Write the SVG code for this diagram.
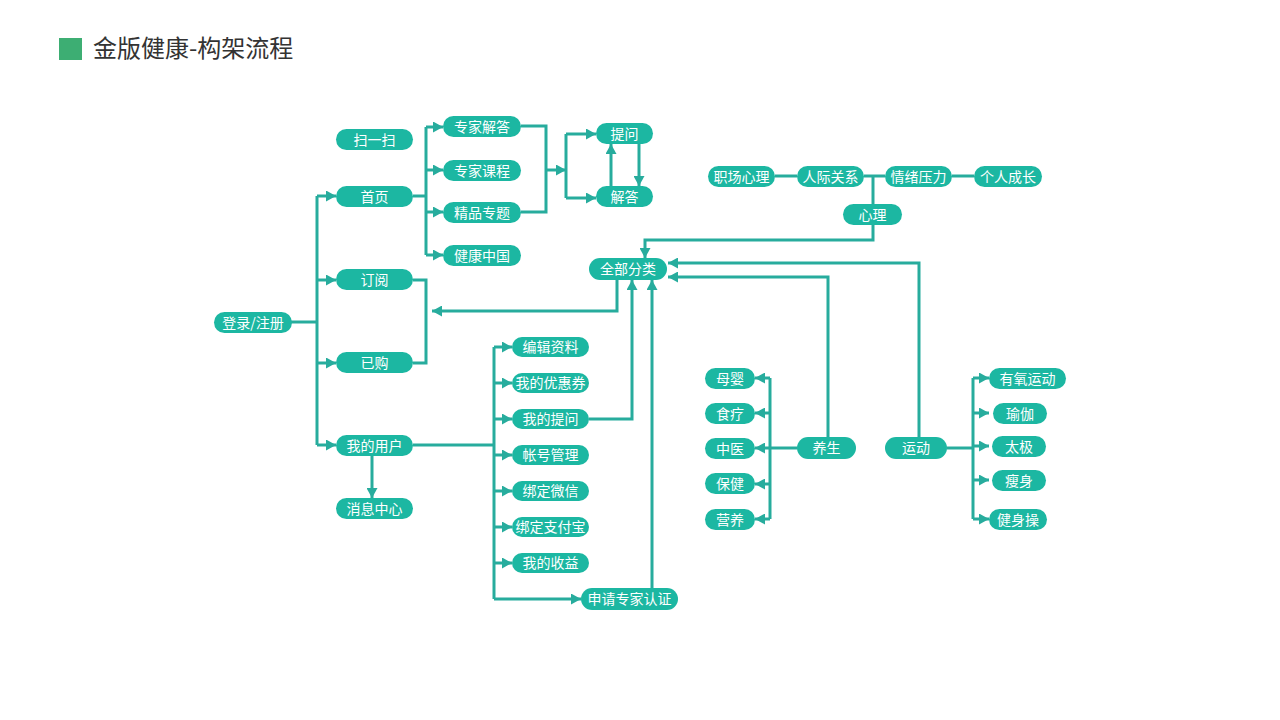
<svg xmlns="http://www.w3.org/2000/svg" width="1280" height="720" viewBox="0 0 1280 720">
<defs>
<style>
.n rect{fill:#1cb7a2}
.n text{fill:#fff;font-family:"Noto Sans CJK SC","Noto Sans",sans-serif;font-size:14px;text-anchor:middle;dominant-baseline:central}
.c path{fill:none;stroke:#27ac9d;stroke-width:3}
.title{fill:#333;font-family:"Noto Sans CJK SC","Noto Sans",sans-serif;font-size:24px}
</style>
<marker id="ah" markerUnits="userSpaceOnUse" markerWidth="11" markerHeight="11" refX="10" refY="5.5" orient="auto">
<path d="M0,0 L10,5.5 L0,11 z" fill="#27ac9d"/>
</marker>
</defs>
<rect width="1280" height="720" fill="#fff"/>
<rect x="59" y="38" width="23" height="22" fill="#3dae73"/>
<text class="title" x="93" y="57">金版健康-构架流程</text>

<g class="c" id="connectors">
<path d="M291,322 H317"/>
<path d="M317,196 V445"/>
<path d="M317,196 H336" marker-end="url(#ah)"/>
<path d="M317,280 H336" marker-end="url(#ah)"/>
<path d="M317,363 H336" marker-end="url(#ah)"/>
<path d="M317,445 H336" marker-end="url(#ah)"/>
<path d="M413,196 H426"/>
<path d="M426,127 V255"/>
<path d="M426,127 H443" marker-end="url(#ah)"/>
<path d="M426,170 H443" marker-end="url(#ah)"/>
<path d="M426,212 H443" marker-end="url(#ah)"/>
<path d="M426,255 H443" marker-end="url(#ah)"/>
<path d="M521,126 H546 V212 H521"/>
<path d="M546,170 H566" marker-end="url(#ah)"/>
<path d="M566,134 V198"/>
<path d="M566,134 H596" marker-end="url(#ah)"/>
<path d="M566,198 H596" marker-end="url(#ah)"/>
<path d="M611,186 V144" marker-end="url(#ah)"/>
<path d="M639,144 V186" marker-end="url(#ah)"/>
<path d="M775,176 H797"/>
<path d="M864,176 H885"/>
<path d="M952,176 H974"/>
<path d="M873,176 V204"/>
<path d="M873,225 V240 H645 V258" marker-end="url(#ah)"/>
<path d="M617,280 V311 H432" marker-end="url(#ah)"/>
<path d="M413,280 H426 V363 H413"/>
<path d="M372,456 V498" marker-end="url(#ah)"/>
<path d="M413,445 H494"/>
<path d="M494,347 V599"/>
<path d="M494,347 H512" marker-end="url(#ah)"/>
<path d="M494,383 H512" marker-end="url(#ah)"/>
<path d="M494,419 H512" marker-end="url(#ah)"/>
<path d="M494,455 H512" marker-end="url(#ah)"/>
<path d="M494,491 H512" marker-end="url(#ah)"/>
<path d="M494,527 H512" marker-end="url(#ah)"/>
<path d="M494,563 H512" marker-end="url(#ah)"/>
<path d="M494,599 H581" marker-end="url(#ah)"/>
<path d="M589,419 H632 V280" marker-end="url(#ah)"/>
<path d="M652,588 V280" marker-end="url(#ah)"/>
<path d="M797,448 H770"/>
<path d="M770,378 V519"/>
<path d="M770,378 H755" marker-end="url(#ah)"/>
<path d="M770,413 H755" marker-end="url(#ah)"/>
<path d="M770,448 H755" marker-end="url(#ah)"/>
<path d="M770,484 H755" marker-end="url(#ah)"/>
<path d="M770,519 H755" marker-end="url(#ah)"/>
<path d="M828,437 V277 H668" marker-end="url(#ah)"/>
<path d="M919,437 V263 H668" marker-end="url(#ah)"/>
<path d="M947,448 H973"/>
<path d="M973,378 V519"/>
<path d="M973,378 H989" marker-end="url(#ah)"/>
<path d="M973,413 H989" marker-end="url(#ah)"/>
<path d="M973,446 H989" marker-end="url(#ah)"/>
<path d="M973,480 H989" marker-end="url(#ah)"/>
<path d="M973,519 H989" marker-end="url(#ah)"/>
</g>

<g class="n" id="n-saoyisao"><rect x="336" y="129" width="77" height="21" rx="10.5"/><text x="374.5" y="138.5">扫一扫</text></g>
<g class="n" id="n-shouye"><rect x="336" y="186" width="77" height="21" rx="10.5"/><text x="374.5" y="195.5">首页</text></g>
<g class="n" id="n-dingyue"><rect x="336" y="269" width="77" height="21" rx="10.5"/><text x="374.5" y="278.5">订阅</text></g>
<g class="n" id="n-yigou"><rect x="336" y="352" width="77" height="21" rx="10.5"/><text x="374.5" y="361.5">已购</text></g>
<g class="n" id="n-wodeyonghu"><rect x="336" y="435" width="77" height="21" rx="10.5"/><text x="374.5" y="444.5">我的用户</text></g>
<g class="n" id="n-xiaoxi"><rect x="336" y="498" width="77" height="21" rx="10.5"/><text x="374.5" y="507.5">消息中心</text></g>
<g class="n" id="n-denglu"><rect x="214" y="312" width="78" height="21" rx="10.5"/><text x="253" y="321.5">登录/注册</text></g>
<g class="n" id="n-zjjd"><rect x="443" y="116" width="78" height="21" rx="10.5"/><text x="482" y="125.5">专家解答</text></g>
<g class="n" id="n-zjkc"><rect x="443" y="160" width="78" height="21" rx="10.5"/><text x="482" y="169.5">专家课程</text></g>
<g class="n" id="n-jpzt"><rect x="443" y="202" width="78" height="21" rx="10.5"/><text x="482" y="211.5">精品专题</text></g>
<g class="n" id="n-jkzg"><rect x="443" y="245" width="78" height="21" rx="10.5"/><text x="482" y="254.5">健康中国</text></g>
<g class="n" id="n-tiwen"><rect x="596" y="123" width="57" height="21" rx="10.5"/><text x="624.5" y="132.5">提问</text></g>
<g class="n" id="n-jieda"><rect x="596" y="186" width="57" height="21" rx="10.5"/><text x="624.5" y="195.5">解答</text></g>
<g class="n" id="n-quanbu"><rect x="589" y="258" width="78" height="22" rx="11"/><text x="628" y="268">全部分类</text></g>
<g class="n" id="n-zcxl"><rect x="708" y="166" width="67" height="21" rx="10.5"/><text x="741.5" y="175.5">职场心理</text></g>
<g class="n" id="n-rjgx"><rect x="797" y="166" width="67" height="21" rx="10.5"/><text x="830.5" y="175.5">人际关系</text></g>
<g class="n" id="n-qxyl"><rect x="885" y="166" width="67" height="21" rx="10.5"/><text x="918.5" y="175.5">情绪压力</text></g>
<g class="n" id="n-grcz"><rect x="974" y="166" width="68" height="21" rx="10.5"/><text x="1008" y="175.5">个人成长</text></g>
<g class="n" id="n-xinli"><rect x="843" y="204" width="59" height="21" rx="10.5"/><text x="872.5" y="213.5">心理</text></g>
<g class="n" id="n-bjzl"><rect x="512" y="337" width="77" height="20" rx="10"/><text x="550.5" y="346">编辑资料</text></g>
<g class="n" id="n-yhq"><rect x="512" y="373" width="77" height="20" rx="10"/><text x="550.5" y="382">我的优惠券</text></g>
<g class="n" id="n-wdtw"><rect x="512" y="409" width="77" height="20" rx="10"/><text x="550.5" y="418">我的提问</text></g>
<g class="n" id="n-zhgl"><rect x="512" y="445" width="77" height="20" rx="10"/><text x="550.5" y="454">帐号管理</text></g>
<g class="n" id="n-bdwx"><rect x="512" y="481" width="77" height="20" rx="10"/><text x="550.5" y="490">绑定微信</text></g>
<g class="n" id="n-bdzfb"><rect x="512" y="517" width="77" height="20" rx="10"/><text x="550.5" y="526">绑定支付宝</text></g>
<g class="n" id="n-wdsy"><rect x="512" y="553" width="77" height="20" rx="10"/><text x="550.5" y="562">我的收益</text></g>
<g class="n" id="n-sqzj"><rect x="581" y="588" width="97" height="22" rx="11"/><text x="629.5" y="598">申请专家认证</text></g>
<g class="n" id="n-muying"><rect x="705" y="368" width="50" height="21" rx="10.5"/><text x="730" y="377.5">母婴</text></g>
<g class="n" id="n-shiliao"><rect x="705" y="403" width="50" height="21" rx="10.5"/><text x="730" y="412.5">食疗</text></g>
<g class="n" id="n-zhongyi"><rect x="705" y="438" width="50" height="21" rx="10.5"/><text x="730" y="447.5">中医</text></g>
<g class="n" id="n-baojian"><rect x="705" y="473" width="50" height="21" rx="10.5"/><text x="730" y="482.5">保健</text></g>
<g class="n" id="n-yingyang"><rect x="705" y="509" width="50" height="21" rx="10.5"/><text x="730" y="518.5">营养</text></g>
<g class="n" id="n-yangsheng"><rect x="797" y="437" width="59" height="22" rx="11"/><text x="826.5" y="447">养生</text></g>
<g class="n" id="n-yundong"><rect x="885" y="437" width="62" height="22" rx="11"/><text x="916" y="447">运动</text></g>
<g class="n" id="n-youyang"><rect x="989" y="368" width="77" height="21" rx="10.5"/><text x="1027.5" y="377.5">有氧运动</text></g>
<g class="n" id="n-yujia"><rect x="993" y="403" width="54" height="21" rx="10.5"/><text x="1020" y="412.5">瑜伽</text></g>
<g class="n" id="n-taiji"><rect x="992" y="436" width="54" height="21" rx="10.5"/><text x="1019" y="445.5">太极</text></g>
<g class="n" id="n-shoushen"><rect x="992" y="470" width="54" height="21" rx="10.5"/><text x="1019" y="479.5">瘦身</text></g>
<g class="n" id="n-jianshencao"><rect x="989" y="509" width="58" height="21" rx="10.5"/><text x="1018" y="518.5">健身操</text></g>
</svg>
